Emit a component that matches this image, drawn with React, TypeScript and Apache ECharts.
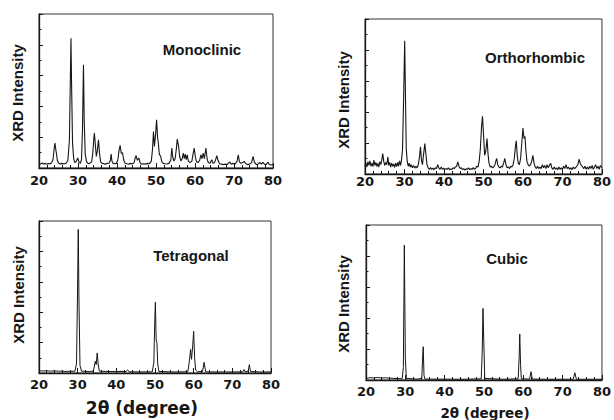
import React, { useEffect, useRef } from "react";
import * as echarts from "echarts";

const xTicks = [20, 30, 40, 50, 60, 70, 80];
const panelNames = ["Monoclinic", "Orthorhombic", "Tetragonal", "Cubic"];
const yTitle = "XRD Intensity";
const xTitle = "2θ (degree)";

const monoclinic: number[][] = [
  [20.0,0.30],[20.4,0.25],[20.8,0.32],[21.2,0.26],[21.6,0.30],[22.0,0.24],[22.4,0.29],[22.8,0.27],[23.2,0.33],[23.6,0.55],[23.9,1.3],[24.1,1.62],[24.3,1.2],[24.5,0.9],[24.7,0.5],[25.0,0.32],[25.4,0.26],[25.8,0.30],[26.2,0.27],[26.6,0.28],[27.0,0.33],[27.4,0.5],[27.8,1.8],[28.05,6.0],[28.2,8.42],[28.35,5.5],[28.6,1.6],[28.9,0.6],[29.2,0.35],[29.6,0.45],[29.95,0.65],[30.3,0.35],[30.6,0.3],[30.9,0.55],[31.15,2.5],[31.4,6.7],[31.6,3.0],[31.85,0.9],[32.2,0.4],[32.6,0.28],[33.0,0.3],[33.5,0.4],[33.8,1.0],[34.05,1.9],[34.2,2.27],[34.45,1.5],[34.7,0.75],[34.95,1.1],[35.25,1.83],[35.5,1.0],[35.8,0.4],[36.2,0.3],[36.6,0.28],[37.0,0.25],[37.5,0.3],[38.0,0.32],[38.3,0.5],[38.5,0.9],[38.7,0.45],[39.0,0.3],[39.4,0.27],[39.8,0.3],[40.2,0.5],[40.5,1.1],[40.8,1.47],[41.1,0.95],[41.4,1.0],[41.7,0.55],[42.0,0.32],[42.5,0.28],[43.0,0.25],[43.5,0.3],[44.0,0.28],[44.4,0.35],[44.7,0.7],[44.9,0.8],[45.2,0.5],[45.6,0.65],[45.9,0.35],[46.3,0.25],[46.8,0.28],[47.3,0.25],[47.8,0.3],[48.3,0.28],[48.8,0.45],[49.1,1.2],[49.35,2.37],[49.6,1.4],[49.9,2.2],[50.15,3.13],[50.4,2.0],[50.6,1.62],[50.85,0.9],[51.2,0.75],[51.5,0.4],[51.9,0.3],[52.3,0.28],[52.8,0.26],[53.3,0.3],[53.8,0.5],[54.05,1.3],[54.3,0.7],[54.6,0.45],[54.9,0.6],[55.2,1.2],[55.45,1.88],[55.8,1.4],[56.1,0.7],[56.4,0.45],[56.7,0.6],[57.0,0.97],[57.25,0.6],[57.5,0.9],[57.75,0.55],[58.0,0.86],[58.3,0.45],[58.7,0.35],[59.2,0.45],[59.5,0.9],[59.8,1.3],[60.1,0.7],[60.4,0.4],[60.8,0.35],[61.2,0.5],[61.5,0.86],[61.8,0.6],[62.1,0.97],[62.4,0.6],[62.8,1.3],[63.1,0.6],[63.4,0.35],[63.8,0.3],[64.3,0.54],[64.6,0.3],[65.0,0.35],[65.3,0.55],[65.6,0.8],[65.9,0.5],[66.3,0.28],[66.8,0.25],[67.3,0.22],[67.8,0.25],[68.3,0.23],[68.9,0.39],[69.3,0.25],[69.8,0.3],[70.3,0.26],[70.8,0.45],[71.1,0.86],[71.4,0.4],[71.8,0.3],[72.2,0.35],[72.6,0.43],[73.0,0.28],[73.5,0.22],[74.0,0.25],[74.5,0.35],[74.9,0.76],[75.2,0.4],[75.6,0.25],[76.0,0.22],[76.6,0.37],[77.0,0.25],[77.4,0.37],[77.8,0.25],[78.2,0.22],[78.7,0.37],[79.0,0.25],[79.5,0.2],[80.0,0.22]
];

const orthorhombic: number[][] = [
  [20.0,0.5],[20.25,0.72],[20.5,0.45],[20.75,0.8],[21.0,0.55],[21.25,0.85],[21.5,0.5],[21.75,0.7],[22.0,0.48],[22.25,0.9],[22.5,0.55],[22.75,0.75],[23.0,0.5],[23.25,0.68],[23.5,0.45],[23.75,0.8],[24.0,0.6],[24.25,0.9],[24.5,1.32],[24.75,0.8],[25.0,0.55],[25.25,0.75],[25.5,0.6],[25.8,1.1],[26.0,0.55],[26.25,0.75],[26.5,0.45],[26.75,0.7],[27.0,0.5],[27.25,0.65],[27.5,0.42],[27.75,0.7],[28.0,0.48],[28.25,0.75],[28.5,0.5],[28.75,0.85],[29.0,0.55],[29.25,0.9],[29.5,1.6],[29.75,4.5],[30.05,8.6],[30.25,5.0],[30.45,1.6],[30.7,0.8],[30.95,0.5],[31.2,0.7],[31.45,0.45],[31.7,0.6],[32.0,0.4],[32.3,0.55],[32.6,0.38],[32.9,0.5],[33.2,0.4],[33.5,0.6],[33.8,1.1],[34.05,1.75],[34.3,0.9],[34.55,0.6],[34.8,1.2],[35.15,1.96],[35.45,1.2],[35.7,0.6],[36.0,0.4],[36.3,0.3],[36.6,0.42],[36.9,0.3],[37.2,0.38],[37.5,0.28],[37.8,0.4],[38.1,0.35],[38.4,0.6],[38.7,0.4],[39.0,0.3],[39.3,0.45],[39.6,0.3],[39.9,0.38],[40.2,0.28],[40.5,0.35],[40.8,0.3],[41.1,0.4],[41.4,0.28],[41.7,0.32],[42.0,0.3],[42.3,0.4],[42.6,0.35],[42.9,0.45],[43.2,0.5],[43.5,0.78],[43.8,0.5],[44.1,0.35],[44.4,0.4],[44.7,0.28],[45.0,0.35],[45.3,0.25],[45.6,0.33],[45.9,0.3],[46.2,0.4],[46.5,0.28],[46.8,0.35],[47.1,0.3],[47.4,0.42],[47.7,0.3],[48.0,0.35],[48.3,0.5],[48.6,0.45],[48.9,0.8],[49.2,1.6],[49.5,3.0],[49.75,3.72],[50.0,2.6],[50.3,1.2],[50.6,1.5],[50.9,2.29],[51.15,1.3],[51.4,0.7],[51.7,0.45],[52.0,0.5],[52.3,0.4],[52.6,0.45],[52.9,0.6],[53.2,0.9],[53.35,1.0],[53.6,0.6],[53.9,0.45],[54.2,0.4],[54.5,0.5],[54.8,0.45],[55.1,0.7],[55.4,1.0],[55.7,0.6],[56.0,0.4],[56.3,0.45],[56.6,0.35],[56.9,0.5],[57.2,0.45],[57.5,0.6],[57.8,1.0],[58.1,1.8],[58.3,2.14],[58.55,1.2],[58.8,0.7],[59.1,0.6],[59.4,1.0],[59.7,2.0],[60.0,2.96],[60.25,2.3],[60.5,2.42],[60.75,1.5],[61.0,0.8],[61.3,0.6],[61.6,0.5],[61.9,0.6],[62.2,0.8],[62.5,1.2],[62.8,0.7],[63.1,0.45],[63.4,0.35],[63.7,0.5],[64.0,0.35],[64.3,0.45],[64.6,0.35],[64.9,0.6],[65.2,0.4],[65.5,0.55],[65.8,0.35],[66.1,0.6],[66.4,0.4],[66.7,0.55],[67.0,0.7],[67.3,0.4],[67.6,0.3],[67.9,0.45],[68.2,0.3],[68.5,0.4],[68.8,0.28],[69.1,0.45],[69.4,0.3],[69.7,0.4],[70.0,0.3],[70.3,0.5],[70.6,0.35],[70.9,0.6],[71.2,0.35],[71.5,0.45],[71.8,0.3],[72.1,0.4],[72.4,0.28],[72.7,0.45],[73.0,0.35],[73.3,0.4],[73.6,0.5],[73.9,0.6],[74.2,0.95],[74.5,0.7],[74.8,0.55],[75.1,0.45],[75.4,0.35],[75.7,0.5],[76.0,0.3],[76.3,0.45],[76.6,0.3],[76.9,0.5],[77.2,0.35],[77.5,0.55],[77.8,0.3],[78.1,0.45],[78.4,0.6],[78.7,0.35],[79.0,0.5],[79.3,0.3],[79.6,0.55],[80.0,0.4]
];

const tetragonal: number[][] = [
  [20,0.15],[21,0.13],[22,0.15],[23,0.12],[24,0.14],[25,0.12],[26,0.12],[27,0.1],[28,0.11],[29.3,0.12],[29.7,0.6],[29.95,5.0],[30.15,9.45],[30.35,4.5],[30.6,0.5],[31.0,0.12],[33.0,0.1],[34.0,0.12],[34.3,0.4],[34.55,0.77],[34.8,0.55],[35.05,1.32],[35.3,0.6],[35.6,0.12],[38,0.1],[42.5,0.1],[42.9,0.2],[43.3,0.08],[46,0.07],[49.3,0.08],[49.7,0.7],[49.95,3.5],[50.1,4.65],[50.3,2.2],[50.5,1.98],[50.7,0.6],[51.0,0.1],[55,0.07],[58.5,0.08],[58.9,0.8],[59.2,1.55],[59.45,0.9],[59.75,1.8],[60.0,2.74],[60.25,1.0],[60.5,0.2],[61,0.08],[62.3,0.1],[62.7,0.7],[63.1,0.08],[65,0.07],[70,0.07],[72.7,0.08],[73.0,0.23],[73.3,0.08],[74.1,0.12],[74.4,0.55],[74.7,0.1],[77,0.07],[80,0.07]
];

const cubic: number[][] = [
  [20,0.1],[21,0.15],[22,0.13],[23,0.16],[24,0.13],[25,0.14],[26,0.12],[27,0.1],[29.2,0.08],[29.5,0.8],[29.75,8.7],[30.0,1.5],[30.25,0.1],[33,0.06],[34.2,0.1],[34.4,1.5],[34.55,2.15],[34.75,0.3],[35,0.06],[45,0.05],[49.3,0.08],[49.55,1.8],[49.75,4.62],[49.95,2.5],[50.2,0.1],[55,0.05],[58.7,0.08],[58.95,1.5],[59.1,2.97],[59.3,1.0],[59.5,0.08],[61.6,0.06],[61.95,0.54],[62.3,0.06],[66,0.05],[72.7,0.05],[73.1,0.47],[73.5,0.05],[80,0.05]
];

const patterns = [monoclinic, orthorhombic, tetragonal, cubic];

export default function App() {
  const ref = useRef<HTMLDivElement>(null);
  useEffect(() => {
    document.body.style.margin = "0";
    const chart = echarts.init(ref.current!, null, { renderer: "svg" });
    const grids = [
      { left: 39, top: 14, width: 234, height: 154 },
      { left: 365, top: 19, width: 237, height: 155 },
      { left: 39, top: 221, width: 232, height: 152 },
      { left: 366, top: 225, width: 238, height: 155 },
    ];
    const labelMargins = [6, 1, 5, 5];
    const ink = "#161616";
    const sansBold = { fontFamily: "Liberation Sans, Arial, sans-serif", fontWeight: "bold" as const };
    const titlePos = [
      { x: 202, y: 49 },
      { x: 535, y: 57 },
      { x: 191, y: 255 },
      { x: 507, y: 258 },
    ];
    const yTitlePos = [
      { x: 17, y: 93 },
      { x: 343, y: 100 },
      { x: 18, y: 295 },
      { x: 343, y: 304 },
    ];
    const graphic: any[] = [];
    panelNames.forEach((n, i) => {
      graphic.push({
        type: "text", x: titlePos[i].x, y: titlePos[i].y,
        style: { text: n, fontSize: 15, ...sansBold, fill: ink, align: "center", verticalAlign: "middle" },
      });
      graphic.push({
        type: "text", x: yTitlePos[i].x, y: yTitlePos[i].y, rotation: Math.PI / 2,
        style: { text: yTitle, fontSize: 15, ...sansBold, fill: ink, align: "center", verticalAlign: "middle" },
      });
    });
    graphic.push({
      type: "text", x: 142, y: 408,
      style: { text: xTitle, fontSize: 17, fontFamily: "DejaVu Sans", fontWeight: "bold", fill: ink, align: "center", verticalAlign: "middle" },
    });
    graphic.push({
      type: "text", x: 485, y: 413,
      style: { text: xTitle, fontSize: 13.5, fontFamily: "DejaVu Sans", fontWeight: "bold", fill: ink, align: "center", verticalAlign: "middle" },
    });

    chart.setOption({
      animation: false,
      backgroundColor: "#ffffff",
      grid: grids.map((g) => ({ ...g, show: true, borderColor: "#333", borderWidth: 1, backgroundColor: "transparent" })),
      xAxis: grids.map((_, i) => ({
        type: "value", gridIndex: i, min: 20, max: 80, interval: 10,
        axisLine: { show: true, onZero: false, lineStyle: { color: ink, width: 1.3 } },
        axisTick: { show: true, inside: true, length: 5, lineStyle: { color: ink, width: 1 } },
        minorTick: { show: true, splitNumber: 5, length: 3, lineStyle: { color: ink, width: 1 } },
        splitLine: { show: false },
        axisLabel: {
          show: true, margin: labelMargins[i], color: ink, fontSize: 13,
          fontFamily: "DejaVu Sans", fontWeight: "bold",
          formatter: (v: number) => (xTicks.includes(v) ? String(v) : ""),
        },
      })),
      yAxis: grids.map((_, i) => ({
        type: "value", gridIndex: i, min: 0, max: 10, interval: 2,
        axisLine: { show: true, lineStyle: { color: ink, width: 1.3 } },
        axisTick: { show: true, inside: true, length: 4, lineStyle: { color: ink, width: 1 } },
        minorTick: { show: true, splitNumber: 2, length: 2.5, lineStyle: { color: ink, width: 1 } },
        splitLine: { show: false },
        axisLabel: { show: false },
      })),
      series: patterns.map((d, i) => ({
        type: "line", xAxisIndex: i, yAxisIndex: i, data: d,
        showSymbol: false, symbol: "none", smooth: false,
        lineStyle: { color: ink, width: i < 2 ? 1.1 : 1 },
      })),
      graphic,
    });
    return () => chart.dispose();
  }, []);
  return <div ref={ref} style={{ width: 614, height: 420 }} />;
}
